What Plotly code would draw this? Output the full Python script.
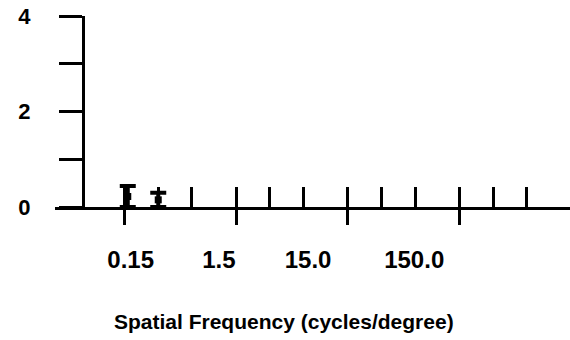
import plotly.graph_objects as go

# Spatial frequency axis (cycles/degree), log scale
major_ticks = [0.15, 1.5, 15.0, 150.0]
minor_ticks = [0.3, 0.6, 3.0, 6.0, 30.0, 60.0, 300.0, 600.0]
label_at = [0.17, 1.05, 6.6, 59.0]
label_text = ["0.15", "1.5", "15.0", "150.0"]

# Measured points with error bars
freq = [0.16, 0.3]
value = [0.22, 0.15]
err = [0.22, 0.15]

y_ticks = [0, 1, 2, 3, 4]
y_text = ["0", "", "2", "", "4"]

FONT = "Liberation Sans, Arial, Helvetica, sans-serif"
xrange_log = [-1.448, 3.167]

fig = go.Figure()
fig.add_trace(go.Scatter(
    x=freq, y=value, mode="markers",
    marker=dict(symbol="square", size=7, color="black"),
    error_y=dict(type="data", array=err, visible=True,
                 thickness=4, width=8, color="black"),
    cliponaxis=False, showlegend=False,
))

common_x = dict(type="log", range=xrange_log, anchor="y",
                showgrid=False, zeroline=False)

fig.update_layout(
    width=570, height=340,
    margin=dict(l=55, r=0, t=16, b=133),
    paper_bgcolor="white", plot_bgcolor="white",
    font=dict(family=FONT, color="black", weight="bold"),
    xaxis=dict(**common_x, domain=[0, 1], showline=True, linewidth=3,
               linecolor="black", tickmode="array", tickvals=major_ticks,
               ticks="outside", ticklen=15, tickwidth=3, tickcolor="black",
               showticklabels=False),
    xaxis2=dict(**common_x, overlaying="x", showline=False,
                tickmode="array", tickvals=major_ticks + minor_ticks,
                ticks="inside", ticklen=20, tickwidth=3, tickcolor="black",
                showticklabels=False),
    xaxis3=dict(**common_x, overlaying="x", showline=False,
                tickmode="array", tickvals=label_at, ticktext=label_text,
                ticks="", tickfont=dict(size=24, family=FONT, weight="bold"),
                ticklabelstandoff=36),
    yaxis=dict(anchor="free", position=(83 - 55) / 515, range=[0, 4],
               showline=True, linewidth=3, linecolor="black",
               showgrid=False, zeroline=False,
               tickmode="array", tickvals=y_ticks, ticktext=y_text,
               ticks="outside", ticklen=23, tickwidth=3, tickcolor="black",
               tickfont=dict(size=22, family=FONT, weight="bold"),
               ticklabelstandoff=24),
    annotations=[dict(text="Spatial Frequency (cycles/degree)",
                      xref="paper", yref="paper", x=0.445, y=-0.602,
                      xanchor="center", yanchor="middle", showarrow=False,
                      font=dict(size=21, family=FONT, weight="bold"))],
)

# attach the extra x axes to an invisible trace so they are rendered
fig.add_trace(go.Scatter(x=[1], y=[None], xaxis="x2", showlegend=False,
                         hoverinfo="skip"))
fig.add_trace(go.Scatter(x=[1], y=[None], xaxis="x3", showlegend=False,
                         hoverinfo="skip"))

fig.write_html("out.html")
